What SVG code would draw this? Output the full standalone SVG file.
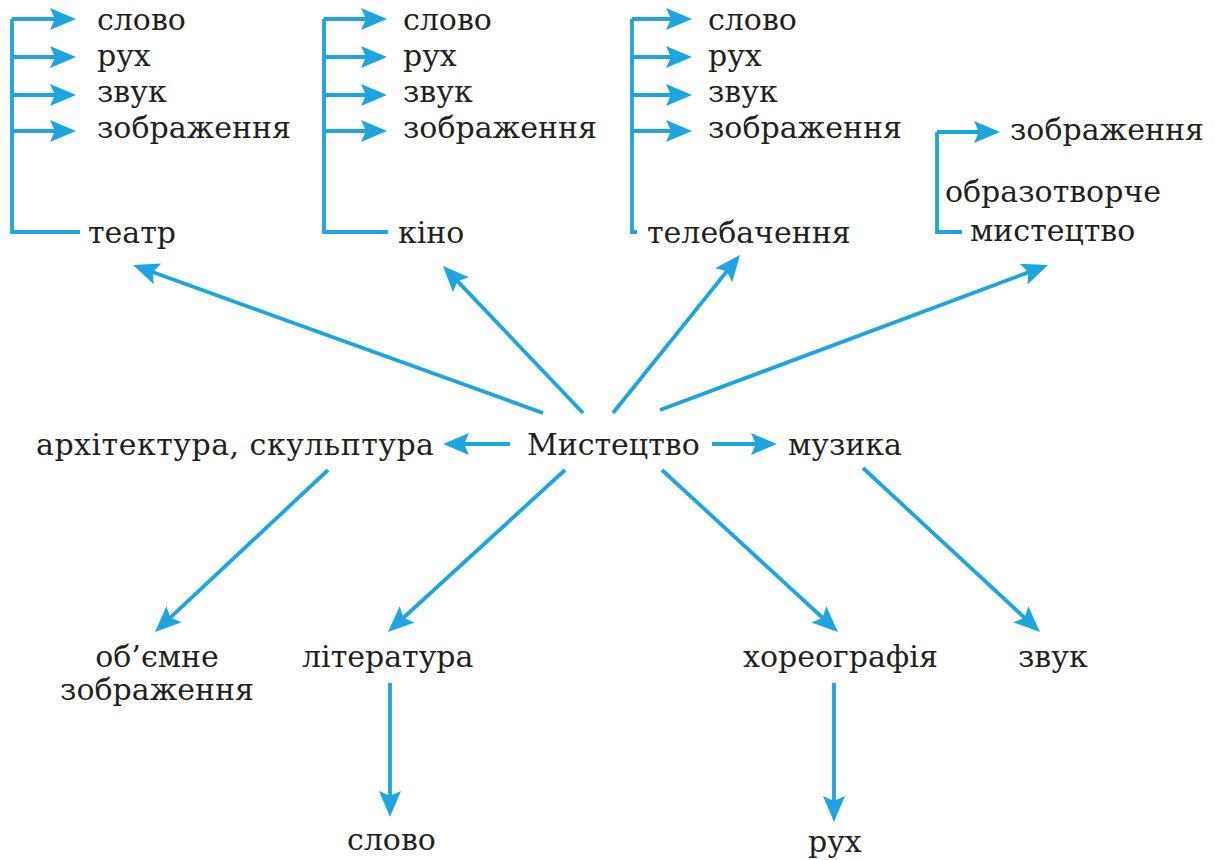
<svg xmlns="http://www.w3.org/2000/svg" width="1215" height="860" viewBox="0 0 1215 860">
<style>
text{font-family:"DejaVu Serif","Liberation Serif",serif;font-size:30px;fill:#231f20}
.ln{stroke:#1ea4df;stroke-width:3.8;fill:none}
.ar{stroke:#1ea4df;stroke-width:3.8;fill:none;marker-end:url(#ah)}
</style>
<defs>
<marker id="ah" markerUnits="userSpaceOnUse" markerWidth="28" markerHeight="24" refX="12" refY="11" orient="auto" viewBox="0 0 28 24">
<path d="M0,0 L26,11 L0,22 L5,11 z" fill="#1ea4df"/>
</marker>
</defs>
<rect width="1215" height="860" fill="#fff"/>
<g id="connectors">
<path class="ln" d="M80,232 H12 V19"/>
<path class="ar" d="M12,19 H62"/><path class="ar" d="M12,57 H62"/><path class="ar" d="M12,95 H62"/><path class="ar" d="M12,131 H62"/>
<path class="ln" d="M388,232 H324 V19"/>
<path class="ar" d="M324,19 H373"/><path class="ar" d="M324,57 H373"/><path class="ar" d="M324,95 H373"/><path class="ar" d="M324,131 H373"/>
<path class="ln" d="M637,232 H632 V19"/>
<path class="ar" d="M632,19 H678"/><path class="ar" d="M632,57 H678"/><path class="ar" d="M632,95 H678"/><path class="ar" d="M632,131 H678"/>
<path class="ln" d="M962,232 H937 V132"/>
<path class="ar" d="M937,132 H986"/>
<path class="ar" d="M543,413 L146.2,269.8"/>
<path class="ar" d="M583,413 L452.7,276.1"/>
<path class="ar" d="M613,413 L731.2,265.9"/>
<path class="ar" d="M660,410 L1034.9,269.9"/>
<path class="ar" d="M510,444 L457,444"/>
<path class="ar" d="M712,444 L763,444"/>
<path class="ar" d="M328,470 L165.2,622.4"/>
<path class="ar" d="M565,470 L398.3,622.5"/>
<path class="ar" d="M662,470 L827.7,622.5"/>
<path class="ar" d="M863,468 L1029.7,622.5"/>
<path class="ar" d="M390,683 V803"/>
<path class="ar" d="M834,683 V808"/>
</g>
<g id="teatr">
<text x="97" y="30">слово</text><text x="97" y="66">рух</text><text x="97" y="102">звук</text><text x="97" y="138">зображення</text>
<text x="88" y="243">театр</text>
</g>
<g id="kino">
<text x="403" y="30">слово</text><text x="403" y="66">рух</text><text x="403" y="102">звук</text><text x="403" y="138">зображення</text>
<text x="398" y="243">кіно</text>
</g>
<g id="telebachennia">
<text x="708" y="30">слово</text><text x="708" y="66">рух</text><text x="708" y="102">звук</text><text x="708" y="138">зображення</text>
<text x="647" y="243">телебачення</text>
</g>
<g id="obrazotvorche">
<text x="1010" y="140">зображення</text>
<text x="945" y="202">образотворче</text>
<text x="970" y="241">мистецтво</text>
</g>
<g id="mystetstvo"><text x="527" y="455">Мистецтво</text></g>
<g id="arkhitektura"><text x="36" y="455" textLength="398" lengthAdjust="spacing">архітектура, скульптура</text></g>
<g id="muzyka"><text x="788" y="455">музика</text></g>
<g id="obiemne"><text x="157" y="667" text-anchor="middle">об’ємне</text><text x="157" y="700" text-anchor="middle">зображення</text></g>
<g id="literatura"><text x="302" y="667">література</text></g>
<g id="khoreohrafiia"><text x="743" y="667">хореографія</text></g>
<g id="zvuk"><text x="1018" y="667">звук</text></g>
<g id="slovo"><text x="347" y="850">слово</text></g>
<g id="rukh"><text x="808" y="852">рух</text></g>
</svg>
